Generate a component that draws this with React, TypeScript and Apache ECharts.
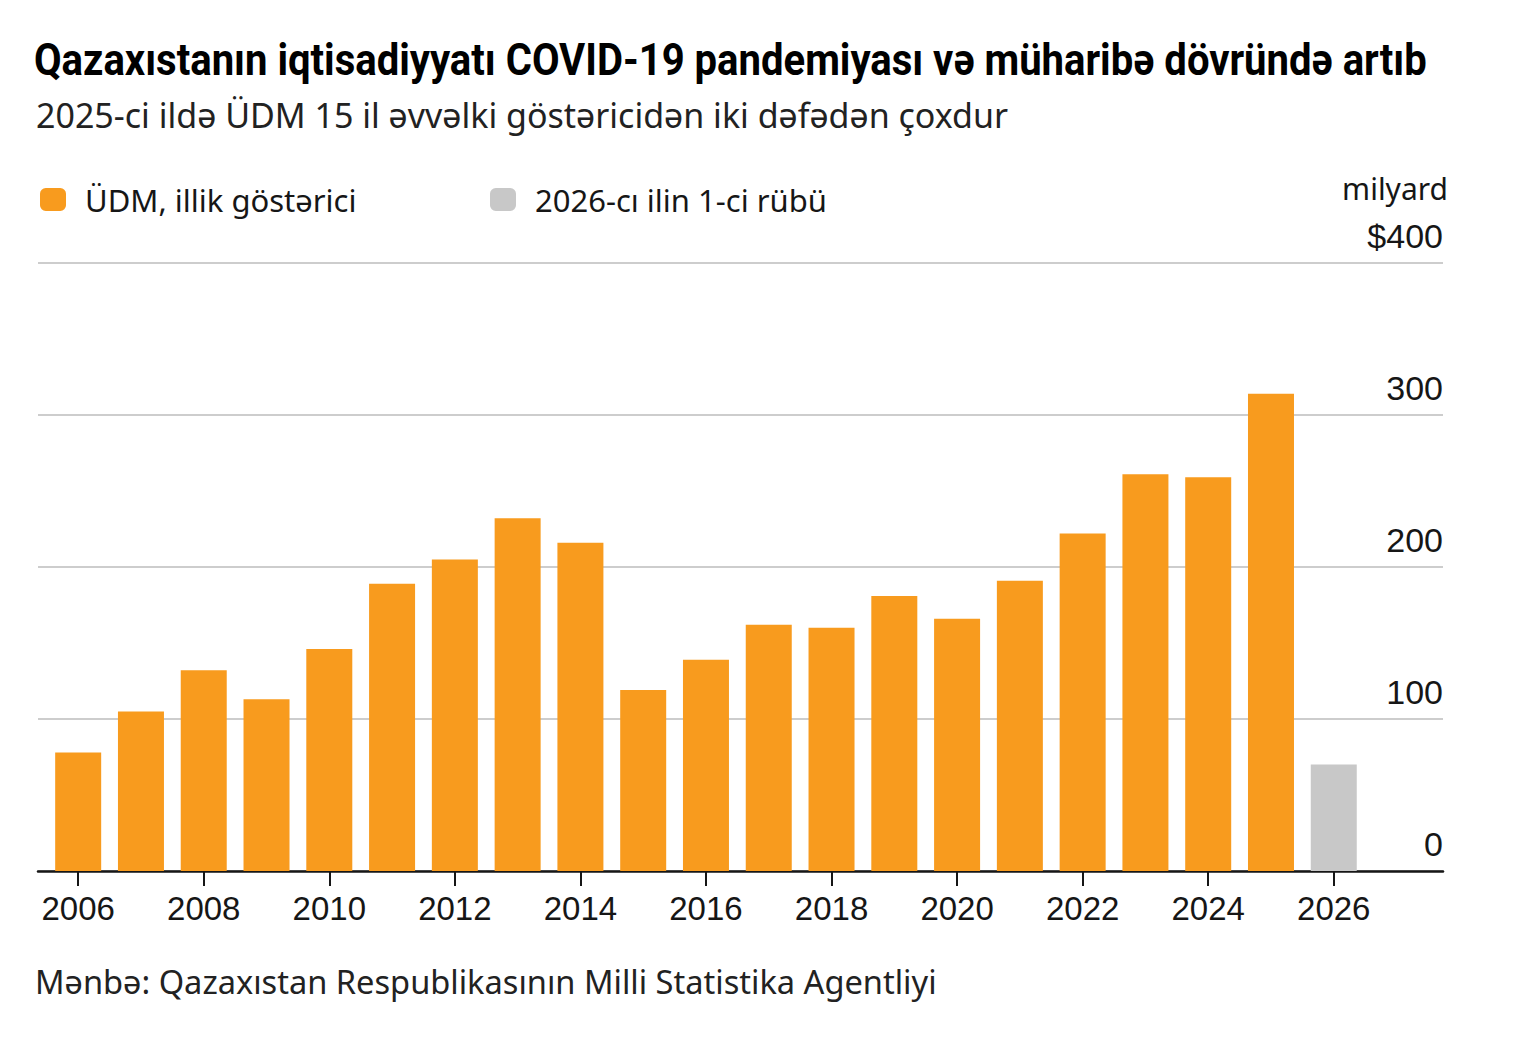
import React, { useEffect, useRef } from "react";
import * as echarts from "echarts";

// Annual GDP, billion US dollars
const years = [
  2006, 2007, 2008, 2009, 2010, 2011, 2012, 2013, 2014, 2015,
  2016, 2017, 2018, 2019, 2020, 2021, 2022, 2023, 2024, 2025,
];
const gdpValues = [
  78, 105, 132, 113, 146, 189, 205, 232, 216, 119,
  139, 162, 160, 181, 166, 191, 222, 261, 259, 314,
];

// First quarter of 2026
const quarterYears = [2026];
const quarterValues = [70];

const tickYears = [2006, 2008, 2010, 2012, 2014, 2016, 2018, 2020, 2022, 2024, 2026];
const yMin = 0;
const yMax = 400;
const yStep = 100;

const annualName = "ÜDM, illik göstərici";
const quarterName = "2026-cı ilin 1-ci rübü";
const titleText = "Qazaxıstanın iqtisadiyyatı COVID-19 pandemiyası və müharibə dövründə artıb";
const subtitleText = "2025-ci ildə ÜDM 15 il əvvəlki göstəricidən iki dəfədən çoxdur";
const unitText = "milyard";
const sourceText = "Mənbə: Qazaxıstan Respublikasının Milli Statistika Agentliyi";

const ORANGE = "#F89B1E";
const GREY = "#C8C8C8";
const INK = "#161616";
const TEXT_FONT = "'Noto Sans', 'Open Sans', sans-serif";
const NUM_FONT = "'Liberation Sans', Arial, sans-serif";

export default function App() {
  const ref = useRef<HTMLDivElement>(null);

  useEffect(() => {
    if (!ref.current) return;
    const chart = echarts.init(ref.current, undefined, { renderer: "svg" });

    const legendBase = {
      top: 184,
      orient: "horizontal",
      icon: "roundRect",
      itemWidth: 26,
      itemHeight: 23,
      padding: 0,
      selectedMode: false,
      textStyle: {
        fontSize: 31,
        fontFamily: TEXT_FONT,
        color: INK,
        padding: [0, 0, 0, 14],
      },
    };

    const option: any = {
      animation: false,
      backgroundColor: "#ffffff",
      grid: { left: 38, right: 71, top: 263, bottom: 168 },
      xAxis: {
        type: "value",
        min: 2005.36,
        max: 2027.74,
        axisLine: { show: true, onZero: false, lineStyle: { color: INK, width: 2.5 } },
        axisTick: {
          show: true,
          customValues: tickYears,
          length: 15,
          lineStyle: { color: INK, width: 2 },
        },
        axisLabel: {
          customValues: tickYears,
          formatter: (v: number) => String(v),
          margin: 21,
          fontSize: 33,
          fontFamily: NUM_FONT,
          color: INK,
        },
        splitLine: { show: false },
      },
      yAxis: {
        type: "value",
        position: "right",
        min: yMin,
        max: yMax,
        interval: yStep,
        axisLine: { show: false },
        axisTick: { show: false },
        splitLine: { lineStyle: { color: "#cdcdcd", width: 2 } },
        axisLabel: {
          inside: true,
          margin: 0,
          verticalAlign: "bottom",
          padding: [0, 0, 10, 0],
          fontSize: 34,
          fontFamily: NUM_FONT,
          color: INK,
          formatter: (v: number) => (v === yMax ? "$" + v : String(v)),
        },
      },
      legend: [
        { ...legendBase, left: 40, data: [annualName] },
        { ...legendBase, left: 490, data: [quarterName] },
      ],
      series: [
        {
          type: "bar",
          name: annualName,
          data: years.map((y, i) => [y, gdpValues[i]]),
          barWidth: 46,
          barGap: "-100%",
          itemStyle: { color: ORANGE },
        },
        {
          type: "bar",
          name: quarterName,
          data: quarterYears.map((y, i) => [y, quarterValues[i]]),
          barWidth: 46,
          barGap: "-100%",
          itemStyle: { color: GREY },
        },
      ],
      graphic: [
        {
          type: "text",
          x: 34,
          y: 59,
          scaleX: 0.89,
          style: {
            text: titleText,
            font: "bold 45px Roboto, sans-serif",
            fill: "#000",
            textVerticalAlign: "middle",
            verticalAlign: "middle",
          },
        },
        {
          type: "text",
          x: 36,
          y: 115,
          style: {
            text: subtitleText,
            font: "34px " + TEXT_FONT,
            fill: "#222",
            textVerticalAlign: "middle",
            verticalAlign: "middle",
          },
        },
        {
          type: "text",
          x: 1448,
          y: 188,
          style: {
            text: unitText,
            font: "30px " + TEXT_FONT,
            fill: INK,
            textAlign: "right",
            align: "right",
            textVerticalAlign: "middle",
            verticalAlign: "middle",
          },
        },
        {
          type: "text",
          x: 35,
          y: 981,
          style: {
            text: sourceText,
            font: "32.6px " + TEXT_FONT,
            fill: "#222",
            textVerticalAlign: "middle",
            verticalAlign: "middle",
          },
        },
      ],
    };

    chart.setOption(option);
    return () => chart.dispose();
  }, []);

  return (
    <div
      ref={ref}
      style={{ position: "absolute", left: 0, top: 0, width: 1514, height: 1039 }}
    />
  );
}
